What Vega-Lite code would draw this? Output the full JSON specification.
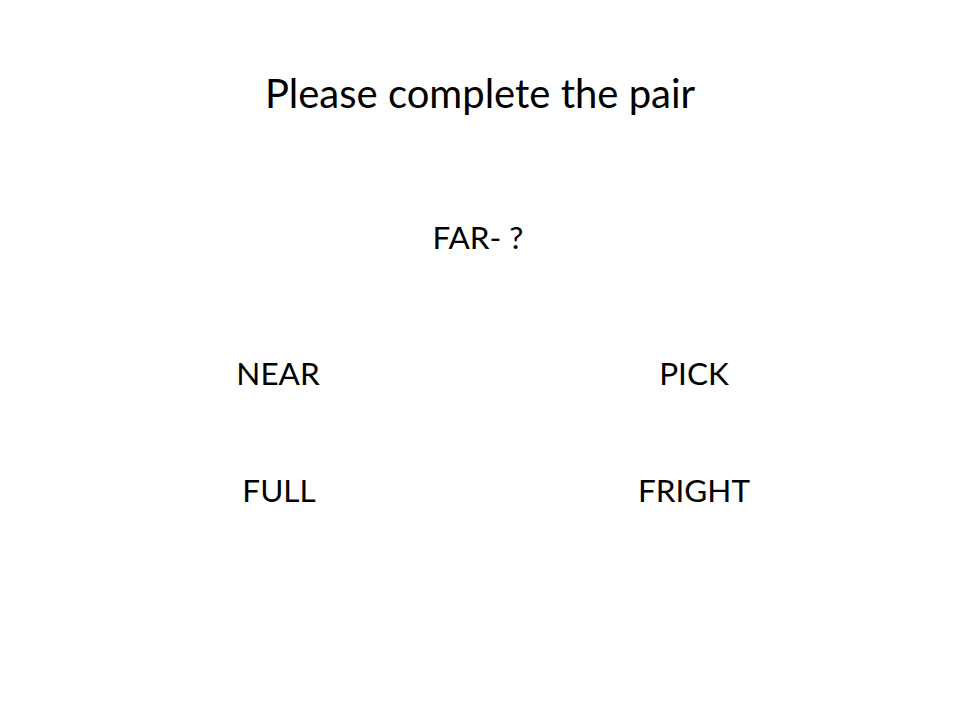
{
  "$schema": "https://vega.github.io/schema/vega-lite/v6.json",
  "autosize": {"type": "fit", "contains": "padding"},
  "width": 960,
  "height": 720,
  "padding": 0,
  "background": "white",
  "view": {"stroke": null},
  "data": {
    "values": [
      {"label": "Please complete the pair", "x": 480, "y": 108, "size": 64},
      {"label": "FAR- ?", "x": 478, "y": 249, "size": 47},
      {"label": "NEAR", "x": 278, "y": 385, "size": 47},
      {"label": "PICK", "x": 694, "y": 385, "size": 47},
      {"label": "FULL", "x": 279, "y": 502, "size": 47},
      {"label": "FRIGHT", "x": 694, "y": 502, "size": 47}
    ]
  },
  "mark": {"type": "text", "align": "center", "baseline": "alphabetic", "font": "Lato", "color": "black"},
  "encoding": {
    "x": {"field": "x", "type": "quantitative", "scale": {"domain": [0, 960], "nice": false, "zero": false}, "axis": null},
    "y": {"field": "y", "type": "quantitative", "scale": {"domain": [720, 0], "nice": false, "zero": false}, "axis": null},
    "size": {"field": "size", "type": "quantitative", "scale": {"type": "identity"}, "legend": null},
    "text": {"field": "label"}
  }
}
